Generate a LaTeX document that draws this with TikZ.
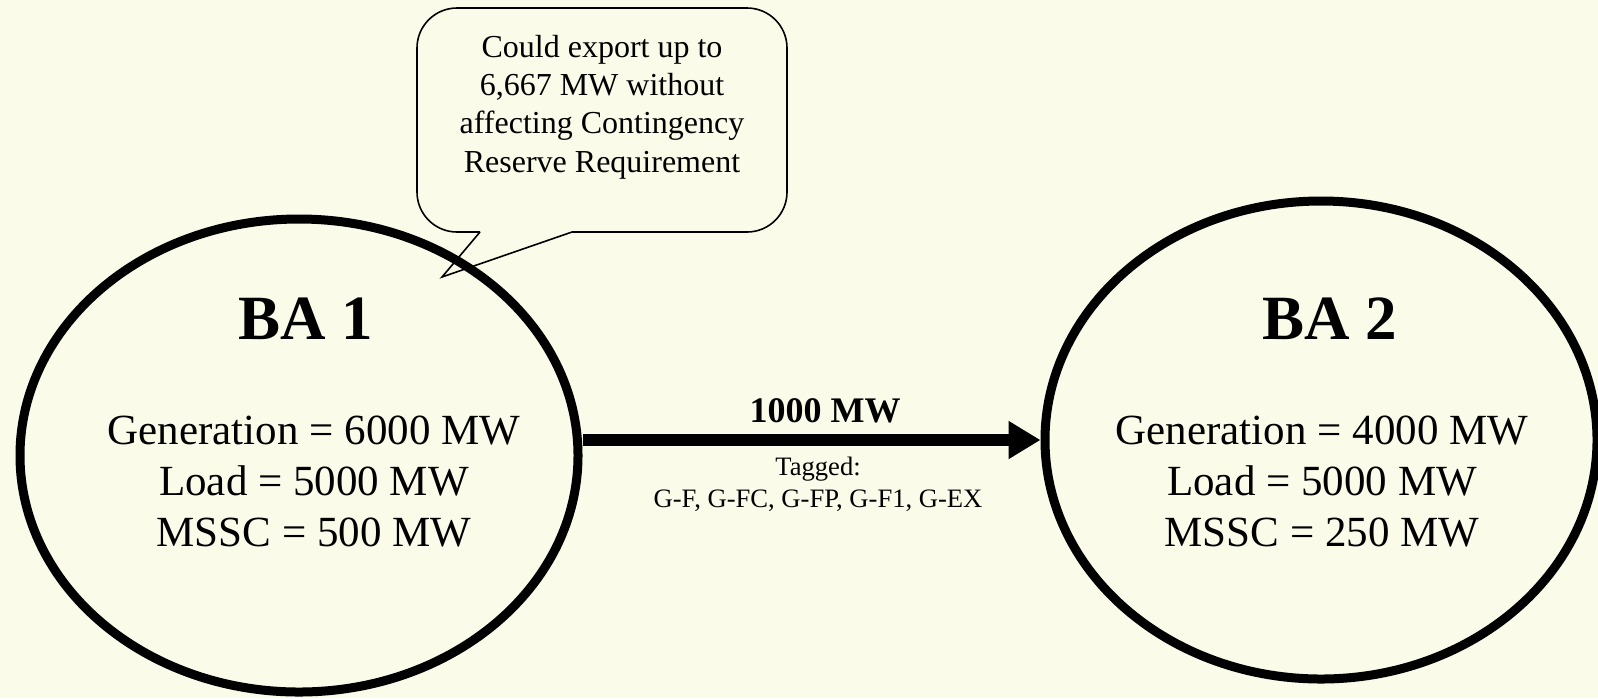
\documentclass[tikz,border=0pt]{standalone}
\usepackage{fontspec}
\setmainfont{Liberation Serif}
\usetikzlibrary{shapes.geometric,arrows.meta}
\definecolor{paper}{RGB}{250,251,232}
\tikzset{
  area/.style={draw,ellipse,line width=4.5pt,inner sep=0pt},
  flow/.style={line width=6pt,-{Triangle[length=16pt,width=18pt]}},
  bubble/.style={line width=0.8pt},
  figs/.style={align=center,font=\fontsize{21.5}{25.5}\selectfont},
  title/.style={anchor=base,font=\fontsize{31.5}{38}\selectfont\bfseries}
}

\begin{document}
\begin{tikzpicture}[x=0.5pt,y=-0.5pt]
\useasboundingbox (0,0) rectangle (1598,698);
\fill[paper] (0,0) rectangle (1598,698);
% speech bubble
\draw[bubble] (480,232) -- (442,277) -- (572,232) [rounded corners=20pt]
   -- (787,232) -- (787,8) -- (417,8) -- (417,232) -- (480,232);
\node[align=center,font=\fontsize{16}{19.2}\selectfont] (note) at (602,107)
   {Could export up to\\6,667 MW without\\affecting Contingency\\Reserve Requirement};
% the two areas
\node[area,minimum width=279pt,minimum height=236.5pt] (ba1) at (299,455.5) {};
\node[area,minimum width=276pt,minimum height=239pt] (ba2) at (1321,440) {};
\node[title] (name1) at (306,339) {BA 1};
\node[title] (name2) at (1330,339) {BA 2};
\node[figs] (data1) at (314,482) {Generation = 6000 MW\\Load = 5000 MW\\MSSC = 500 MW};
\node[figs] (data2) at (1322,482) {Generation = 4000 MW\\Load = 5000 MW\\MSSC = 250 MW};
% interchange
\draw[flow] (ba1.east |- ba2.west) -- (ba2.west);
\node[anchor=base,font=\fontsize{18}{22}\selectfont\bfseries] (mw) at (825,422) {1000 MW};
\node[align=center,font=\fontsize{13.3}{16}\selectfont] (tags) at (818,484)
   {Tagged:\\G-F, G-FC, G-FP, G-F1, G-EX};
\end{tikzpicture}
\end{document}
